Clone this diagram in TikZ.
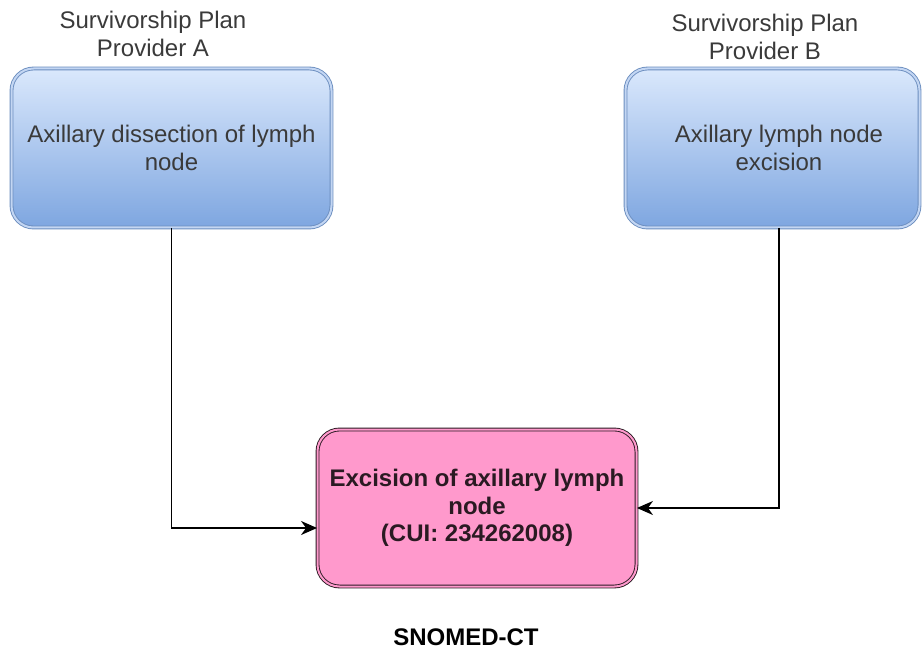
\documentclass[tikz,border=0pt]{standalone}
\usepackage{fontspec}
\setmainfont{Liberation Sans}
\usetikzlibrary{arrows.meta}
\definecolor{provtop}{HTML}{DAE8FC}
\definecolor{provbot}{HTML}{7EA6E0}
\definecolor{provfill}{HTML}{C3D6F3}
\definecolor{provline}{HTML}{6C8EBF}
\definecolor{cuifill}{HTML}{FF99CC}
\definecolor{cuiline}{HTML}{2A1A22}
\definecolor{labtext}{HTML}{3A3A3A}

\tikzset{
  provbox/.style={rounded corners=22pt, minimum width=294pt, minimum height=159pt,
    draw=provline, line width=0.9pt, double=provfill, double distance=2pt,
    top color=provtop, bottom color=provbot,
    text=labtext, align=center, font=\fontsize{24}{27.5}\selectfont},
  cuibox/.style={rounded corners=22pt, minimum width=319pt, minimum height=157pt,
    draw=cuiline, line width=0.9pt, double=cuifill, double distance=2pt,
    fill=cuifill, text=cuiline, align=center,
    font=\fontsize{24}{27.5}\selectfont\bfseries},
  provlab/.style={text=labtext, align=center, font=\fontsize{24}{27.5}\selectfont},
  link/.style={line width=1.3pt, -{Stealth[length=16pt,width=14pt,inset=5pt]}}
}

\begin{document}
\begin{tikzpicture}[x=1pt,y=-1pt]
      \useasboundingbox (0,0) rectangle (922,650);
      \path
      (171.5,148) node[provbox, minimum width=320pt](provA) {Axillary dissection of lymph\\node}
      (772.5,148) node[provbox](provB) {\hspace*{13pt}Axillary lymph node\\\hspace*{13pt}excision}
      (477,508) node[cuibox](cui) {Excision of axillary lymph\\node\\(CUI: 234262008)}
      ;
      \path
      (153,34) node[provlab](labA) {Survivorship Plan\\Provider A}
      (765,37) node[provlab](labB) {Survivorship Plan\\Provider B}
      (466,637) node[provlab, text=black, font=\fontsize{24}{27.5}\selectfont\bfseries](snomed) {SNOMED-CT}
      ;

      \draw[link] (provA.south) |- ([yshift=-20pt]cui.west);
      \draw[link] ([xshift=6.5pt]provB.south) |- (cui.east);
    \end{tikzpicture}
\end{document}
